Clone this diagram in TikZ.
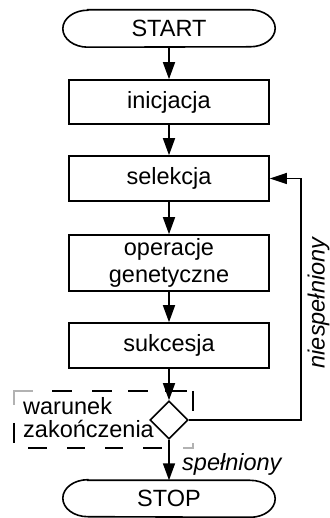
\documentclass[tikz,border=0pt]{standalone}
\usepackage{fontspec}
\setmainfont{Liberation Sans}
\usetikzlibrary{arrows.meta,shapes.geometric}

\tikzset{
  base/.style={font=\fontsize{23.5}{27}\selectfont, inner sep=0pt},
  stepbox/.style={base, draw, line width=1.6pt, minimum width=200pt, align=center},
  terminal/.style={base, minimum width=212pt},
  decision/.style={base, draw, diamond, aspect=1, line width=1.6pt,
    minimum width=38pt, minimum height=38pt},
  arr/.style={line width=1.6pt, -{Triangle[length=17pt,width=12pt]}},
  fbline/.style={line width=1.3pt, -{Triangle[length=17pt,width=11pt]}},
  lbl/.style={base, font=\fontsize{23.5}{27}\selectfont\itshape},
  framedash/.style={line width=1.1pt},
  framecorner/.style={line width=1.1pt, gray!60},
}

% stadium outline with elliptic ends around a terminal node
\newcommand{\terminalframe}[1]{%
  \draw[line width=1.6pt]
    ([xshift=25pt]#1.north west) -- ([xshift=-25pt]#1.north east)
    arc[start angle=90, end angle=-90, x radius=25pt, y radius=18.5pt]
    -- ([xshift=25pt]#1.south west)
    arc[start angle=270, end angle=90, x radius=25pt, y radius=18.5pt]
    -- cycle;}

\begin{document}
\begin{tikzpicture}[x=1pt, y=1pt]
  \useasboundingbox (0,0) rectangle (329,518);

  % flow steps
  \node[terminal, minimum height=37pt] (start) at (169,489.5) {START};
  \terminalframe{start}
  \node[stepbox, minimum height=44pt] (ini) at (169,416) {inicjacja};
  \node[stepbox, minimum height=45pt] (sel) at (169,339.5) {selekcja};
  \node[stepbox, minimum height=56pt] (gen) at (169,255) {operacje\\genetyczne};
  \node[stepbox, minimum height=45pt] (suk) at (169,172.5) {sukcesja};
  \node[decision] (dec) at (169,98) {};
  \node[terminal, minimum height=36pt] (stop) at (169,19.5) {STOP};
  \terminalframe{stop}

  % dashed frame around the termination test
  \foreach \a/\b in {52/72, 92/112, 128/148, 165/187}
    \draw[framedash] (\a,127) -- (\b,127);
  \foreach \a/\b in {28/47, 67/85, 105/123, 143/162}
    \draw[framedash] (\a,70) -- (\b,70);
  \draw[framedash] (14,95) -- (14,75);
  \draw[framedash] (193,127) -- (193,107);
  \draw[framecorner] (14,113) -- (14,127) -- (33,127);
  \draw[framecorner] (183,70) -- (193,70) -- (193,75);
  \node[base, anchor=base west] (w1) at (23,103) {warunek};
  \node[base, anchor=base west] (w2) at (23,80) {zakończenia};

  % connectors
  \draw[arr] (start) -- (ini);
  \draw[arr] (ini) -- (sel);
  \draw[arr] (sel) -- (gen);
  \draw[arr] (gen) -- (suk);
  \draw[arr] (suk) -- (dec);
  \draw[arr] (dec) -- (stop);
  \coordinate (fb) at (301,339.5);
  \draw[fbline] (dec.east) -| (fb) -- (sel.east);

  % branch labels
  \node[lbl, anchor=base west] (yes) at (182,47) {spełniony};
  \node[lbl, rotate=90] (no) at (318.5,215) {niespełniony};
\end{tikzpicture}
\end{document}
